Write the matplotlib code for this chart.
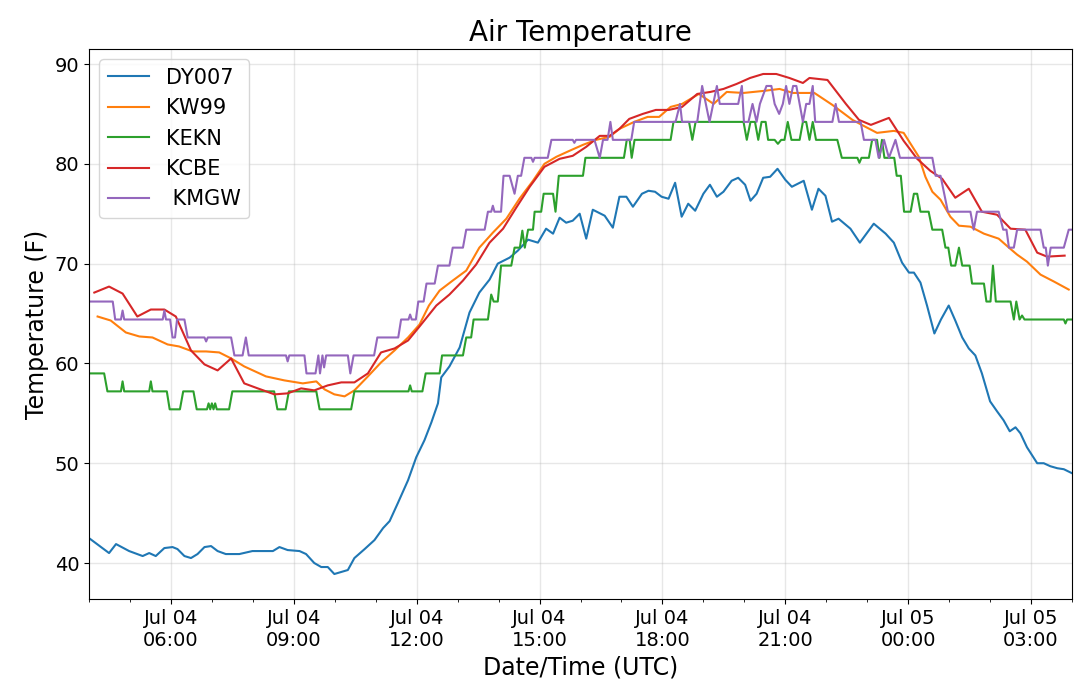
import numpy as np
import pandas as pd
import matplotlib
matplotlib.use("Agg")
import matplotlib.pyplot as plt
import matplotlib.dates as mdates

# hours since 2019-07-04 00:00 UTC, temperature (F)
dy007_h = [4.00, 4.49, 4.66, 4.98, 5.31, 5.47, 5.63, 5.84, 6.04, 6.16, 6.33, 6.49, 6.65, 6.82, 6.98,
           7.14, 7.34, 7.67, 7.99, 8.49, 8.65, 8.85, 9.14, 9.30, 9.50, 9.67, 9.83, 9.99, 10.32, 10.48,
           10.73, 10.97, 11.18, 11.34, 11.54, 11.79, 11.99, 12.19, 12.36, 12.52, 12.60, 12.80, 13.05,
           13.29, 13.53, 13.78, 13.98, 14.27, 14.47, 14.72, 14.96, 15.16, 15.33, 15.49, 15.65, 15.81,
           15.98, 16.14, 16.30, 16.59, 16.79, 16.95, 17.12, 17.28, 17.50, 17.66, 17.82, 17.98, 18.15,
           18.31, 18.47, 18.63, 18.80, 19.00, 19.16, 19.33, 19.49, 19.69, 19.85, 20.02, 20.15, 20.30,
           20.46, 20.63, 20.81, 21.00, 21.16, 21.45, 21.65, 21.81, 21.98, 22.14, 22.30, 22.59, 22.82,
           23.16, 23.45, 23.65, 23.85, 24.02, 24.14, 24.30, 24.46, 24.64, 24.80, 24.99, 25.15, 25.32,
           25.48, 25.64, 25.80, 26.00, 26.17, 26.33, 26.48, 26.62, 26.74, 26.90, 27.15, 27.31, 27.47,
           27.64, 27.80, 28.00]
dy007_v = [42.5, 41.0, 41.9, 41.2, 40.7, 41.0, 40.7, 41.5, 41.6, 41.4, 40.7, 40.5, 40.9, 41.6, 41.7,
           41.2, 40.9, 40.9, 41.2, 41.2, 41.6, 41.3, 41.2, 40.9, 40.0, 39.6, 39.6, 38.9, 39.3, 40.5,
           41.4, 42.3, 43.5, 44.2, 46.0, 48.3, 50.6, 52.3, 54.1, 56.0, 58.6, 59.7, 61.6,
           65.1, 67.1, 68.4, 70.0, 70.6, 71.3, 72.4, 72.1, 73.5, 73.0, 74.6, 74.1, 74.3,
           75.0, 72.5, 75.4, 74.8, 73.6, 76.7, 76.7, 75.7, 77.0, 77.3, 77.2, 76.7, 76.5,
           78.1, 74.7, 76.0, 75.3, 77.0, 77.9, 76.7, 77.2, 78.3, 78.6, 77.9, 76.3, 77.0,
           78.6, 78.7, 79.5, 78.4, 77.7, 78.3, 75.4, 77.5, 76.8, 74.2, 74.5, 73.5, 72.1,
           74.0, 73.0, 72.1, 70.1, 69.1, 69.1, 68.1, 65.8, 63.0, 64.4, 65.8, 64.3, 62.6,
           61.5, 60.8, 59.0, 56.2, 55.2, 54.3, 53.2, 53.6, 53.0, 51.6, 50.0, 50.0, 49.7,
           49.5, 49.4, 49.0]

kw99_h = [4.21, 4.53, 4.90, 5.23, 5.55, 5.92, 6.20, 6.53, 6.86, 7.18, 7.47, 7.79, 8.32, 8.77, 9.22,
          9.55, 9.75, 9.99, 10.24, 10.48, 10.81, 11.13, 11.46, 11.79, 12.07, 12.30, 12.56, 12.88,
          13.21, 13.53, 13.86, 14.19, 14.51, 14.84, 15.12, 15.41, 15.73, 16.06, 16.38, 16.71, 16.95,
          17.31, 17.64, 17.92, 18.20, 18.48, 18.89, 19.25, 19.57, 19.98, 20.46, 20.86, 21.19, 21.71,
          22.15, 22.64, 22.96, 23.24, 23.65, 23.89, 24.06, 24.26, 24.42, 24.59, 24.79, 25.03, 25.24,
          25.52, 25.85, 26.21, 26.46, 26.66, 26.90, 27.23, 27.56, 27.92]
kw99_v = [64.7, 64.3, 63.1, 62.7, 62.6, 61.9, 61.7, 61.2, 61.2, 61.1, 60.5, 59.7, 58.7, 58.3, 58.0,
          58.2, 57.4, 56.9, 56.7, 57.3, 58.7, 60.1, 61.3, 62.6, 63.9, 65.8, 67.3, 68.3,
          69.3, 71.6, 73.1, 74.5, 76.5, 78.3, 80.0, 80.7, 81.3, 81.9, 82.4, 82.7, 83.5,
          84.2, 84.7, 84.7, 85.7, 86.0, 87.0, 86.0, 87.2, 87.1, 87.3, 87.5, 87.1, 87.1,
          85.9, 84.4, 83.7, 83.1, 83.3, 83.1, 82.0, 80.7, 78.7, 77.2, 76.4, 74.7, 73.8,
          73.7, 73.0, 72.5, 71.6, 70.9, 70.2, 68.9, 68.2, 67.4]

kekn_h = [4.00, 4.37, 4.45, 4.78, 4.82, 4.86, 5.47, 5.51, 5.55, 5.90, 5.97, 6.22, 6.30, 6.55, 6.63,
          6.88, 6.92, 6.96, 7.00, 7.04, 7.08, 7.12, 7.42, 7.50, 8.52, 8.60, 8.80, 8.88, 9.55, 9.63,
          10.40, 10.48, 11.80, 11.84, 11.88, 12.14, 12.22, 12.56, 12.62, 13.13, 13.21, 13.33, 13.39,
          13.74, 13.82, 13.88, 13.98, 14.06, 14.31, 14.39, 14.52, 14.58, 14.64, 14.72, 14.84, 14.88,
          15.04, 15.10, 15.33, 15.39, 15.47, 16.06, 16.12, 17.06, 17.13, 17.20, 17.25, 17.32, 18.20,
          18.27, 18.65, 18.73, 18.81, 19.98, 20.06, 20.15, 20.26, 20.34, 20.42, 20.52, 20.58, 20.74,
          20.82, 20.90, 20.98, 21.06, 21.15, 21.35, 21.43, 21.51, 21.59, 21.67, 21.75, 22.27, 22.38,
          22.76, 22.81, 22.86, 23.04, 23.12, 23.24, 23.30, 23.36, 23.42, 23.66, 23.72, 23.82, 23.90,
          24.06, 24.14, 24.22, 24.30, 24.50, 24.59, 24.83, 24.91, 24.98, 25.05, 25.15, 25.24, 25.32,
          25.50, 25.56, 25.85, 25.91, 26.01, 26.07, 26.14, 26.50, 26.58, 26.64, 26.72, 26.78, 26.84,
          27.80, 27.84, 27.88, 28.00]
kekn_v = [59.0, 59.0, 57.2, 57.2, 58.2, 57.2, 57.2, 58.2, 57.2, 57.2, 55.4, 55.4, 57.2, 57.2, 55.4,
          55.4, 56.0, 55.4, 56.0, 55.4, 56.0, 55.4, 55.4, 57.2, 57.2, 55.4, 55.4, 57.2, 57.2, 55.4,
          55.4, 57.2, 57.2, 57.8, 57.2, 57.2, 59.0, 59.0, 60.8, 60.8, 62.6, 62.6, 64.4,
          64.4, 66.9, 66.2, 66.2, 69.8, 69.8, 71.6, 71.6, 73.3, 71.6, 73.4, 73.4, 75.2,
          75.2, 77.0, 77.0, 75.2, 78.8, 78.8, 80.6, 80.6, 82.4, 82.4, 80.6, 82.4, 82.4,
          84.2, 84.2, 82.4, 84.2, 84.2, 82.4, 84.2, 84.2, 82.4, 84.2, 84.2, 82.4, 82.4,
          82.0, 82.4, 82.4, 84.2, 82.4, 82.4, 84.2, 84.2, 82.4, 84.2, 82.4, 82.4, 80.6,
          80.6, 80.1, 80.6, 80.6, 82.4, 82.4, 80.6, 82.4, 80.6, 80.6, 78.8, 78.8, 75.2,
          75.2, 77.0, 77.0, 75.2, 75.2, 73.4, 73.4, 71.6, 71.6, 69.8, 69.8, 71.6, 69.8,
          69.8, 68.0, 68.0, 66.2, 66.2, 69.8, 66.2, 66.2, 64.4, 66.2, 64.4, 64.8, 64.4,
          64.4, 64.0, 64.4, 64.4]

kcbe_h = [4.13, 4.49, 4.82, 5.18, 5.51, 5.84, 6.12, 6.49, 6.82, 7.14, 7.47, 7.79, 8.12, 8.53, 8.85,
          9.18, 9.50, 9.83, 10.16, 10.48, 10.81, 11.13, 11.46, 11.79, 12.07, 12.48, 12.80, 13.13,
          13.45, 13.78, 14.11, 14.43, 14.76, 15.12, 15.49, 15.81, 16.14, 16.47, 16.71, 16.95, 17.19,
          17.52, 17.84, 18.16, 18.48, 18.85, 19.17, 19.49, 19.81, 20.14, 20.46, 20.78, 21.10, 21.43,
          21.59, 22.03, 22.48, 22.80, 23.09, 23.53, 23.89, 24.22, 24.54, 24.83, 25.15, 25.48, 25.80,
          26.17, 26.50, 26.86, 27.15, 27.39, 27.82]
kcbe_v = [67.1, 67.7, 67.0, 64.7, 65.4, 65.4, 64.7, 61.3, 59.9, 59.3, 60.5, 58.0, 57.5, 56.9, 57.0,
          57.5, 57.3, 57.8, 58.1, 58.1, 59.0, 61.1, 61.5, 62.3, 63.7, 65.8, 66.9, 68.3,
          69.9, 72.1, 73.5, 75.6, 77.7, 79.7, 80.5, 80.8, 81.7, 82.8, 82.8, 83.5, 84.5,
          85.0, 85.4, 85.4, 85.7, 87.0, 87.2, 87.5, 88.0, 88.6, 89.0, 89.0, 88.6, 88.1,
          88.6, 88.4, 86.0, 84.4, 83.9, 84.6, 82.3, 80.5, 79.3, 78.5, 76.6, 77.5, 75.2,
          74.9, 73.5, 73.4, 71.1, 70.7, 70.8]

kmgw_h = [4.00, 4.58, 4.64, 4.78, 4.82, 4.86, 5.80, 5.84, 5.88, 5.98, 6.04, 6.10, 6.15, 6.33, 6.41,
          6.82, 6.86, 6.90, 7.47, 7.55, 7.75, 7.83, 7.90, 8.81, 8.85, 8.89, 9.26, 9.31, 9.53, 9.60,
          9.64, 9.70, 9.74, 9.79, 10.32, 10.38, 10.46, 10.96, 11.04, 11.55, 11.62, 11.80, 11.84,
          11.88, 11.98, 12.04, 12.17, 12.24, 12.44, 12.52, 12.80, 12.88, 13.13, 13.21, 13.66, 13.74,
          13.82, 13.86, 13.90, 14.06, 14.12, 14.27, 14.39, 14.47, 14.55, 14.63, 14.80, 14.84, 14.88,
          15.20, 15.29, 15.81, 15.85, 15.89, 16.34, 16.47, 16.55, 16.66, 16.73, 16.79, 17.24, 17.31,
          18.32, 18.43, 18.48, 18.85, 18.97, 19.15, 19.33, 19.40, 19.85, 19.94, 19.99, 20.10, 20.20,
          20.30, 20.38, 20.54, 20.66, 20.74, 20.85, 20.94, 21.02, 21.10, 21.19, 21.27, 21.35, 21.43,
          21.51, 21.59, 21.67, 21.73, 22.15, 22.23, 22.31, 22.84, 22.92, 23.20, 23.28, 23.41, 23.53,
          23.69, 23.80, 24.59, 24.67, 24.79, 24.97, 25.52, 25.60, 25.68, 26.21, 26.32, 26.40, 26.46,
          26.58, 26.66, 27.23, 27.31, 27.36, 27.41, 27.48, 27.80, 27.92, 28.00]
kmgw_v = [66.2, 66.2, 64.4, 64.4, 65.3, 64.4, 64.4, 65.3, 64.4, 64.4, 62.6, 62.6, 64.4, 64.4, 62.6,
          62.6, 62.2, 62.6, 62.6, 60.8, 60.8, 62.6, 60.8, 60.8, 60.2, 60.8, 60.8, 59.0, 59.0, 60.8,
          59.0, 60.8, 59.6, 60.8, 60.8, 59.0, 60.8, 60.8, 62.6, 62.6, 64.4, 64.4, 64.9,
          64.4, 64.4, 66.2, 66.2, 68.0, 68.0, 69.8, 69.8, 71.6, 71.6, 73.4, 73.4, 75.2,
          75.2, 75.8, 75.2, 75.2, 78.8, 78.8, 77.0, 78.8, 78.8, 80.6, 80.6, 80.2, 80.6,
          80.6, 82.4, 82.4, 82.1, 82.4, 82.4, 80.6, 82.4, 82.4, 84.2, 82.4, 82.4, 84.2,
          84.2, 86.0, 84.2, 84.2, 87.8, 84.2, 87.8, 86.0, 86.0, 87.8, 84.2, 84.2, 86.0,
          84.2, 86.0, 87.8, 87.8, 86.0, 85.0, 86.0, 87.8, 86.0, 87.8, 87.8, 86.0, 84.2,
          86.0, 86.0, 87.8, 84.2, 84.2, 86.0, 84.2, 84.2, 82.4, 82.4, 80.6, 82.4, 80.6,
          82.4, 80.6, 80.6, 78.8, 78.8, 75.2, 75.2, 73.4, 75.2, 75.2, 73.4, 73.4, 71.6,
          71.6, 73.4, 73.4, 71.6, 71.6, 69.8, 71.6, 71.6, 73.4, 73.4]

labels = ["DY007", "KW99", "KEKN", "KCBE", " KMGW"]
colors = ["#1f77b4", "#ff7f0e", "#2ca02c", "#d62728", "#9467bd"]

base = pd.Timestamp("2019-07-04 00:00")


def to_time(hours):
    return (base + pd.to_timedelta(np.asarray(hours, dtype=float), unit="h")).to_pydatetime()


series = [(dy007_h, dy007_v), (kw99_h, kw99_v), (kekn_h, kekn_v), (kcbe_h, kcbe_v), (kmgw_h, kmgw_v)]

fig = plt.figure(figsize=(10.8, 6.86), dpi=100)
ax = fig.add_axes([0.0824, 0.1268, 0.9102, 0.8018])

for (h, v), lab, c in zip(series, labels, colors):
    ax.plot(to_time(h), v, color=c, lw=1.5, label=lab)

ax.set_xlim(to_time([4.0])[0], to_time([28.0])[0])
ax.xaxis.set_major_locator(mdates.HourLocator(byhour=range(0, 24, 3)))
ax.xaxis.set_minor_locator(mdates.HourLocator())
ax.xaxis.set_major_formatter(mdates.DateFormatter("%b %d\n%H:%M"))
for t in ax.get_xticklabels():
    t.set_ha("center")

ax.grid(True, which="major", color="#b0b0b0", alpha=0.3, lw=1.0)
ax.tick_params(axis="both", which="major", labelsize=14)
ax.set_title("Air Temperature", fontsize=20)
ax.set_xlabel("Date/Time (UTC)", fontsize=17)
ax.set_ylabel("Temperature (F)", fontsize=17)
ax.legend(loc="upper left", fontsize=15)

fig.savefig("out.png", dpi=100)
